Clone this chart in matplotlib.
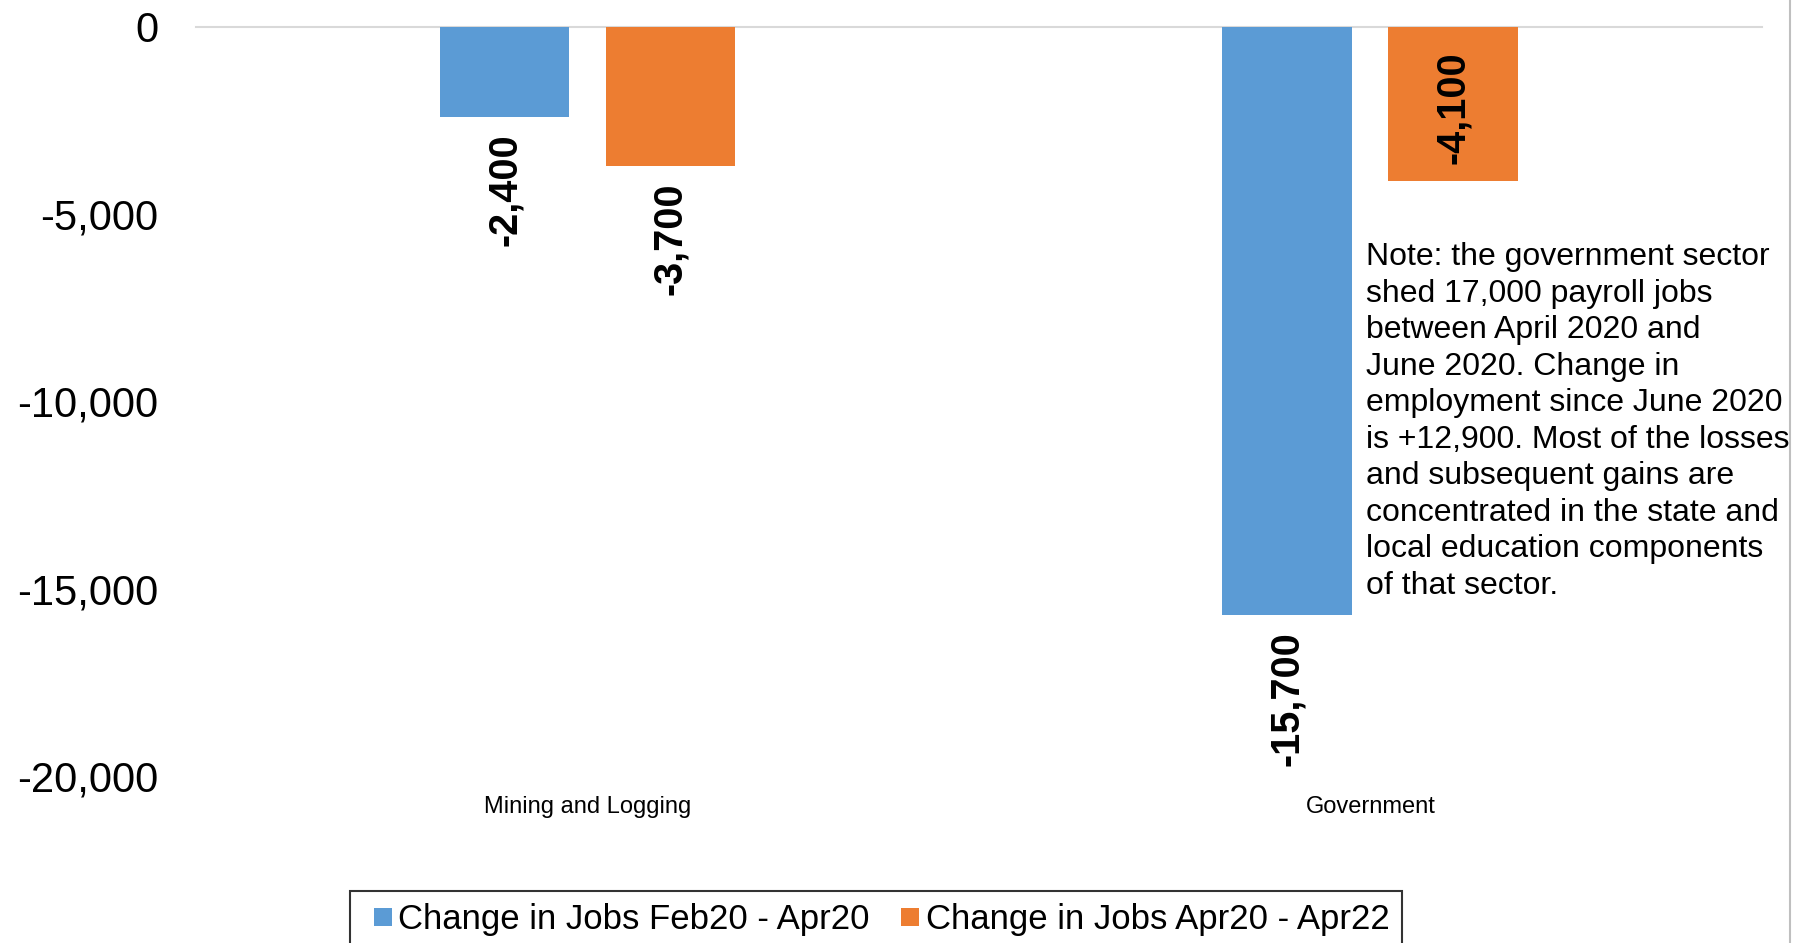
import numpy as np
import matplotlib
matplotlib.use('Agg')
from matplotlib import pyplot as plt
from matplotlib.lines import Line2D

plt.rcParams['font.family'] = ['Liberation Sans', 'DejaVu Sans']

# data
categories = ['Mining and Logging', 'Government']
feb20_apr20 = [-2400, -15700]
apr20_apr22 = [-3700, -4100]
series_names = ['Change in Jobs Feb20 - Apr20', 'Change in Jobs Apr20 - Apr22']
yticks = [0, -5000, -10000, -15000, -20000]
note_lines = [
    'Note: the government sector',
    'shed 17,000 payroll jobs',
    'between April 2020 and',
    'June 2020. Change in',
    'employment since June 2020',
    'is +12,900. Most of the losses',
    'and subsequent gains are',
    'concentrated in the state and',
    'local education components',
    'of that sector.',
]

blue = '#5b9bd5'
orange = '#ed7d31'

fig = plt.figure(figsize=(18.07, 9.43), dpi=100)
ax = fig.add_axes([0.1085, 0.1771, 0.975 - 0.1085, 0.9714 - 0.1771])

x = np.arange(len(categories))
w = 0.166
off = 0.106
ax.bar(x - off, feb20_apr20, w, color=blue)
ax.bar(x + off, apr20_apr22, w, color=orange)

ax.set_xlim(-0.5, 1.5)
ax.set_ylim(-20000, 0)

# zero line sits on top edge
ax.axhline(0, color='#d9d9d9', lw=1.5, clip_on=False, zorder=0)

for s in ax.spines.values():
    s.set_visible(False)

ax.set_yticks(yticks)
ax.set_yticklabels(['{:,}'.format(v) for v in yticks], fontsize=30)
ax.tick_params(axis='y', length=0, pad=27)
ax.set_xticks(x)
ax.set_xticklabels(categories, fontsize=17)
ax.tick_params(axis='x', length=0, pad=14.5)

# value labels, rotated
def lab(xpos, val, inside=False):
    if inside:
        ax.annotate('{:,}'.format(val), (xpos, val), xytext=(0, 12), textcoords='offset points',
                    rotation=90, ha='center', va='bottom', fontsize=28.5, fontweight='bold')
    else:
        ax.annotate('{:,}'.format(val), (xpos, val), xytext=(0, -12), textcoords='offset points',
                    rotation=90, ha='center', va='top', fontsize=28.5, fontweight='bold')

for i in range(len(categories)):
    lab(x[i] - off, feb20_apr20[i])
    # gov orange label sits inside the bar
    lab(x[i] + off, apr20_apr22[i], inside=(i == 1))

fig.text(1366 / 1807, 1 - 242 / 943, '\n'.join(note_lines), fontsize=23,
         ha='left', va='top', linespacing=1.285)

# right edge border of chart area
fig.add_artist(Line2D([1790 / 1807, 1790 / 1807], [0, 1], color='#bfbfbf', lw=1.5))

# square markers as legend handles
handles = [Line2D([], [], ls='none', marker='s', markersize=13.5, color=c, markeredgewidth=0)
           for c in (blue, orange)]
leg = fig.legend(handles=handles, labels=series_names, loc='upper left',
                 bbox_to_anchor=(350 / 1807, 1 - 891 / 943),
                 ncol=2, fontsize=25, frameon=True, fancybox=False, edgecolor='black',
                 handlelength=1.18, handletextpad=-0.14, columnspacing=0.57,
                 borderpad=0.35, borderaxespad=0)
leg.get_frame().set_linewidth(1.5)

plt.savefig('out.png', dpi=100)
